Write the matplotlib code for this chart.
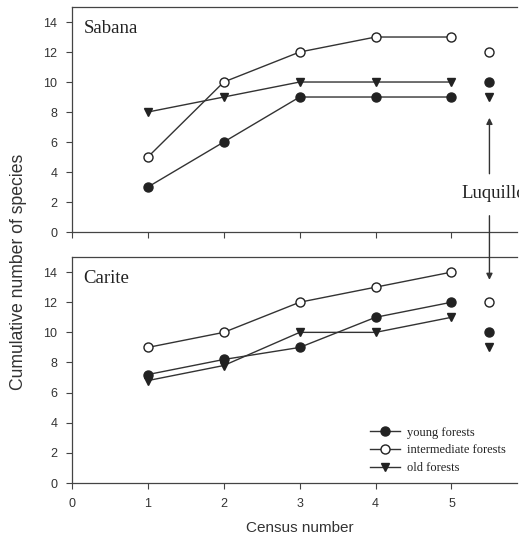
import matplotlib
matplotlib.use("Agg")
import matplotlib.pyplot as plt

census = [1, 2, 3, 4, 5]

# Sabana
sabana_young = [3, 6, 9, 9, 9]
sabana_inter = [5, 10, 12, 13, 13]
sabana_old = [8, 9, 10, 10, 10]

# Carite
carite_young = [7.2, 8.2, 9, 11, 12]
carite_inter = [9, 10, 12, 13, 14]
carite_old = [6.8, 7.8, 10, 10, 11]

# Luquillo totals (shown at x=5.5 in both panels)
luquillo_x = 5.5
luquillo_young = 10
luquillo_inter = 12
luquillo_old = 9

SANS = "Liberation Sans"
SERIF = "Liberation Serif"
LC = "#333333"

fig = plt.figure(figsize=(5.19, 5.44), dpi=100)
ax1 = fig.add_axes([0.1387, 0.5735, 0.857, 0.4136])
ax2 = fig.add_axes([0.1387, 0.1121, 0.857, 0.4154])


def draw_panel(ax, young, inter, old, label):
    ax.plot(census, young, color=LC, lw=1, marker="o", ms=6.5,
            mfc="#222222", mec="#222222", label="young forests")
    ax.plot(census, inter, color=LC, lw=1, marker="o", ms=6.5,
            mfc="white", mec="#222222", label="intermediate forests")
    ax.plot(census, old, color=LC, lw=1, marker="v", ms=6,
            mfc="#222222", mec="#222222", label="old forests")
    ax.plot([luquillo_x], [luquillo_young], ls="none", marker="o", ms=6.5,
            mfc="#222222", mec="#222222")
    ax.plot([luquillo_x], [luquillo_inter], ls="none", marker="o", ms=6.5,
            mfc="white", mec="#222222")
    ax.plot([luquillo_x], [luquillo_old], ls="none", marker="v", ms=6,
            mfc="#222222", mec="#222222")
    ax.set_xlim(0, 5.86)
    ax.set_ylim(0, 15)
    ax.set_yticks([0, 2, 4, 6, 8, 10, 12, 14])
    ax.set_xticks([0, 1, 2, 3, 4, 5])
    ax.spines["right"].set_visible(False)
    for s in ax.spines.values():
        s.set_color("#444444")
        s.set_linewidth(0.9)
    ax.tick_params(direction="out", length=4.5, width=0.8, colors="#444444",
                   labelsize=9, labelcolor="#333333", pad=6)
    for t in ax.get_yticklabels() + ax.get_xticklabels():
        t.set_family(SANS)
    ax.text(0.15, 13.6, label, family=SERIF, fontsize=13.5, color="#222222",
            va="center", ha="left")


draw_panel(ax1, sabana_young, sabana_inter, sabana_old, "Sabana")
draw_panel(ax2, carite_young, carite_inter, carite_old, "Carite")
ax1.tick_params(labelbottom=False)

# Luquillo label and arrows (label runs off the right edge as in the original)
ax1.text(5.13, 2.6, "Luquillo", family=SERIF, fontsize=13.5, color="#222222",
         va="center", ha="left", clip_on=False)
ax1.annotate("", xy=(luquillo_x, 7.8), xytext=(luquillo_x, 3.7),
             arrowprops=dict(arrowstyle="-|>", color="#333333", lw=1,
                             mutation_scale=9))
ax2.annotate("", xy=(luquillo_x, 13.3), xytext=(luquillo_x, 1.27),
             textcoords=ax1.transData,
             arrowprops=dict(arrowstyle="-|>", color="#333333", lw=1,
                             mutation_scale=9))

leg = ax2.legend(loc="lower right", bbox_to_anchor=(1.0, -0.01), frameon=False,
                 handlelength=2.4, handletextpad=0.5, labelspacing=0.45,
                 prop={"family": SERIF, "size": 9})
for t in leg.get_texts():
    t.set_color("#222222")

fig.text(0.035, 0.5, "Cumulative number of species", rotation=90,
         family=SANS, fontsize=12.7, color="#333333", ha="center", va="center")
fig.text(0.578, 0.03, "Census number", family=SANS, fontsize=11,
         color="#333333", ha="center", va="center")

fig.savefig("out.png", dpi=100)
